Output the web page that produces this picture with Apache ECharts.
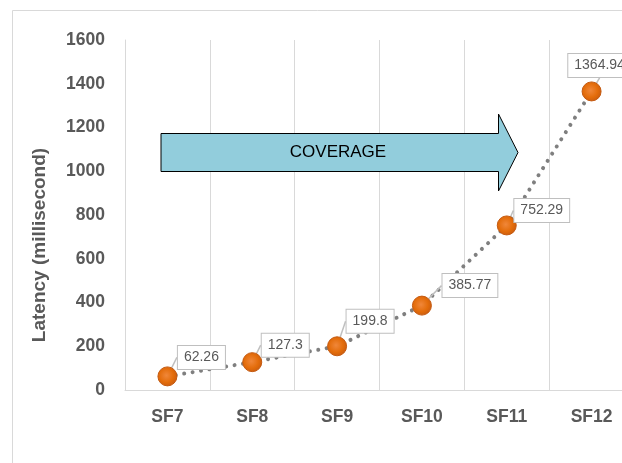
<!DOCTYPE html>
<html>
<head>
<meta charset="utf-8">
<script src="https://cdn.jsdelivr.net/npm/echarts@6/dist/echarts.min.js"></script>
<style>
html,body{margin:0;padding:0;background:#fff;}
#chart{width:622px;height:463px;}
</style>
</head>
<body>
<div id="chart"></div>
<script>
var categories = ['SF7', 'SF8', 'SF9', 'SF10', 'SF11', 'SF12'];
var latency = [62.26, 127.3, 199.8, 385.77, 752.29, 1364.94];
var yTicks = { min: 0, max: 1600, interval: 200 };
var yTitle = 'Latency (millisecond)';
var arrowText = 'COVERAGE';

// label callout offsets (layout only)
var labelOffsets = [[34, -19], [33, -17], [33, -25], [48, -20], [35, -15], [8, -26]];

var axisFont = "'Liberation Sans', Arial, sans-serif";

var chart = echarts.init(document.getElementById('chart'), null, { renderer: 'canvas' });
chart.setOption({
  animation: false,
  backgroundColor: '#ffffff',
  grid: { left: 125, top: 40, width: 509, height: 350, containLabel: false, outerBoundsMode: 'none' },
  xAxis: {
    type: 'category',
    data: categories,
    boundaryGap: true,
    axisLine: { show: true, lineStyle: { color: '#d9d9d9', width: 1 } },
    axisTick: { show: false },
    splitLine: { show: true, lineStyle: { color: '#d9d9d9', width: 1 } },
    axisLabel: { color: '#595959', fontWeight: 'bold', fontSize: 17.5, fontFamily: axisFont, margin: 18 }
  },
  yAxis: {
    type: 'value',
    min: yTicks.min, max: yTicks.max, interval: yTicks.interval,
    axisLine: { show: true, lineStyle: { color: '#d9d9d9', width: 1 } },
    axisTick: { show: false },
    splitLine: { show: false },
    axisLabel: {
      color: '#595959', fontWeight: 'bold', fontSize: 17.5, fontFamily: axisFont, margin: 20,
      formatter: function (v) { return String(v); }
    }
  },
  graphic: [
    {
      type: 'rect',
      shape: { x: 12.5, y: 10.5, width: 700, height: 520 },
      style: { fill: 'none', stroke: '#d9d9d9', lineWidth: 1 },
      z: -10, silent: true
    },
    {
      type: 'text',
      x: 40, y: 245, rotation: Math.PI / 2,
      style: { text: yTitle, fill: '#595959', fontWeight: 'bold', fontSize: 19, fontFamily: "'Liberation Sans', Arial, sans-serif", align: 'center', verticalAlign: 'middle' },
      silent: true
    },
    {
      type: 'polygon',
      shape: { points: [[161, 133.5], [498.5, 133.5], [498.5, 114], [518, 152.5], [498.5, 191], [498.5, 171.5], [161, 171.5]] },
      style: { fill: '#92cddc', stroke: '#000000', lineWidth: 1 },
      z: 1, silent: true
    },
    {
      type: 'text',
      x: 338, y: 152.5,
      style: { text: arrowText, fill: '#000000', fontSize: 17, fontFamily: "'Liberation Sans', Arial, sans-serif", align: 'center', verticalAlign: 'middle' },
      z: 2, silent: true
    }
  ],
  series: [{
    type: 'line',
    data: latency,
    z: 5,
    symbol: 'circle',
    symbolSize: 19,
    lineStyle: { color: '#7f7f7f', width: 4, type: [0.01, 8.5], cap: 'round' },
    itemStyle: {
      color: {
        type: 'radial', x: 0.45, y: 0.45, r: 0.6,
        colorStops: [
          { offset: 0, color: '#f0873a' },
          { offset: 0.6, color: '#e36c0a' },
          { offset: 1, color: '#c55a11' }
        ]
      },
      borderColor: '#c55a11', borderWidth: 1
    },
    label: {
      show: true,
      position: 'inside',
      color: '#595959',
      fontSize: 14,
      fontFamily: "'Liberation Sans', Arial, sans-serif",
      backgroundColor: '#ffffff',
      borderColor: '#bfbfbf',
      borderWidth: 1,
      padding: [5, 6, 4, 6],
      formatter: function (p) { return String(p.value); }
    },
    labelLine: { show: true, lineStyle: { color: '#bfbfbf', width: 1.5 } },
    labelLayout: function (params) {
      var o = labelOffsets[params.dataIndex];
      return { dx: o[0], dy: o[1] };
    }
  }]
});
</script>
</body>
</html>
